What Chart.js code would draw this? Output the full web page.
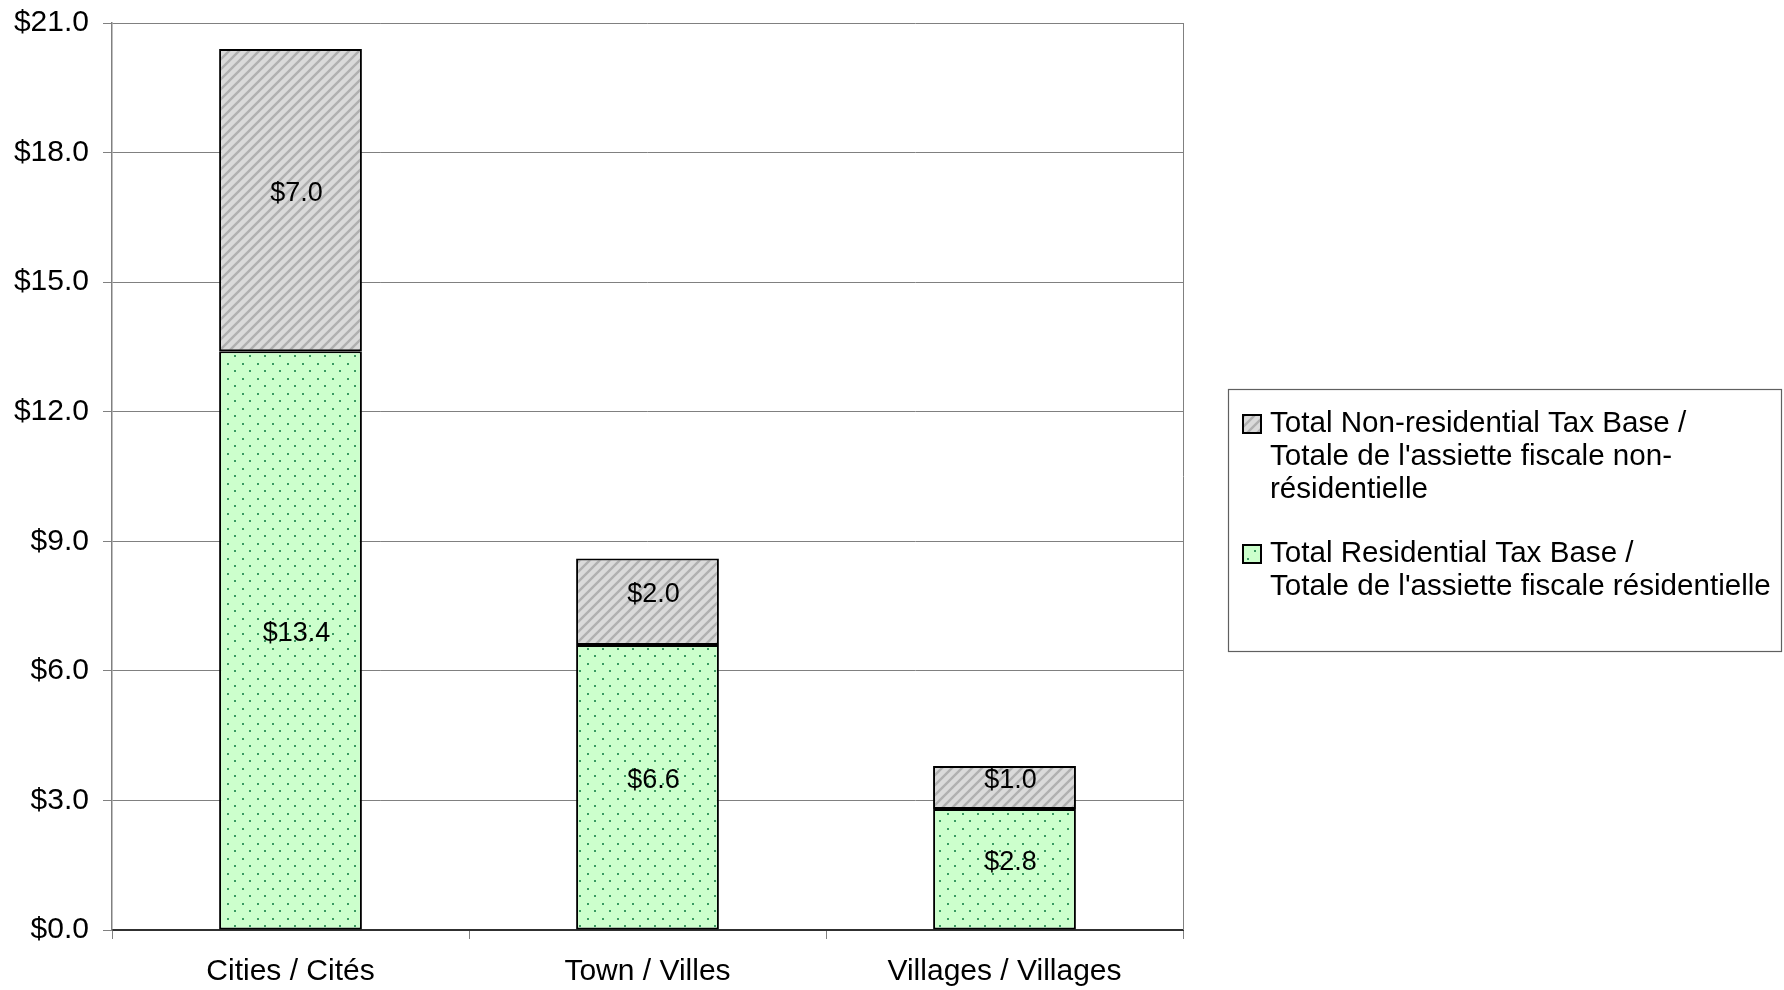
<!DOCTYPE html>
<html>
<head>
<meta charset="utf-8">
<script src="https://cdn.jsdelivr.net/npm/chart.js@4/dist/chart.umd.min.js"></script>
<style>
  html, body { margin: 0; padding: 0; background: #fff; }
  #wrap { width: 1784px; height: 990px; }
</style>
</head>
<body>
<div id="wrap"><canvas id="taxChart" width="1784" height="990"></canvas></div>
<script>
// Datos (miles de millones)
const categories = ['Cities / Cités', 'Town / Villes', 'Villages / Villages'];
const residential = [13.4, 6.6, 2.8];
const nonResidential = [7.0, 2.0, 1.0];
const yTicks = [0, 3, 6, 9, 12, 15, 18, 21];
const legendNonRes = ['Total Non-residential Tax Base /', 'Totale de l\'assiette fiscale non-', 'résidentielle'];
const legendRes = ['Total Residential Tax Base /', 'Totale de l\'assiette fiscale résidentielle'];

const FONT = 'Liberation Sans, Arial, sans-serif';

// motivos de relleno
function stripePattern() {
  const c = document.createElement('canvas');
  c.width = 10; c.height = 10;
  const g = c.getContext('2d');
  g.fillStyle = '#dadada';
  g.fillRect(0, 0, 10, 10);
  g.strokeStyle = '#b0b0b0';
  g.lineWidth = 2.4;
  g.beginPath();
  g.moveTo(-2, 12); g.lineTo(12, -2);
  g.moveTo(-7, 7); g.lineTo(7, -7);
  g.moveTo(3, 17); g.lineTo(17, 3);
  g.stroke();
  return g.createPattern(c, 'repeat');
}
function dotPattern() {
  const c = document.createElement('canvas');
  c.width = 15; c.height = 15;
  const g = c.getContext('2d');
  g.fillStyle = '#ccffcc';
  g.fillRect(0, 0, 15, 15);
  g.fillStyle = '#3a9a62';
  g.fillRect(2, 3, 2, 2);
  g.fillRect(9, 10, 2, 2);
  return g.createPattern(c, 'repeat');
}
const greyFill = stripePattern();
const greenFill = dotPattern();

const data = {
  labels: categories,
  datasets: [{
    label: legendRes.join(' '),
    data: residential,
    backgroundColor: greenFill,
    borderColor: '#000',
    borderWidth: 2,
    borderSkipped: false,
    barPercentage: 0.4,
    categoryPercentage: 1
  }, {
    label: legendNonRes.join(' '),
    data: nonResidential,
    backgroundColor: greyFill,
    borderColor: '#000',
    borderWidth: 2,
    borderSkipped: false,
    barPercentage: 0.4,
    categoryPercentage: 1
  }]
};

// etiquetas de valor al centro de cada segmento
const valueLabels = {
  id: 'valueLabels',
  afterDatasetsDraw(chart) {
    const ctx = chart.ctx;
    ctx.save();
    ctx.font = '27px ' + FONT;
    ctx.fillStyle = '#000';
    ctx.textAlign = 'center';
    ctx.textBaseline = 'middle';
    chart.data.datasets.forEach((ds, i) => {
      chart.getDatasetMeta(i).data.forEach((bar, j) => {
        const p = bar.getProps(['x', 'y', 'base'], true);
        ctx.fillText('$' + ds.data[j].toFixed(1), p.x + 6, (p.y + p.base) / 2 - 7);
      });
    });
    ctx.restore();
  }
};

// borde derecho del area de trazado
const plotFrame = {
  id: 'plotFrame',
  beforeDatasetsDraw(chart) {
    const a = chart.chartArea, ctx = chart.ctx;
    ctx.save();
    ctx.strokeStyle = '#808080';
    ctx.lineWidth = 1;
    ctx.beginPath();
    ctx.moveTo(Math.round(a.right) + 0.5, a.top);
    ctx.lineTo(Math.round(a.right) + 0.5, a.bottom);
    ctx.stroke();
    ctx.restore();
  }
};

// leyenda en caja, con lineas partidas
const boxLegend = {
  id: 'boxLegend',
  afterDraw(chart) {
    const ctx = chart.ctx;
    const bx = 1228, by = 389, bw = 553, bh = 262;
    ctx.save();
    ctx.fillStyle = '#fff';
    ctx.fillRect(bx, by, bw, bh);
    ctx.strokeStyle = '#606060';
    ctx.lineWidth = 1.2;
    ctx.strokeRect(bx + 0.5, by + 0.5, bw, bh);
    const items = [
      { lines: legendNonRes, fill: greyFill, y: 424 },
      { lines: legendRes, fill: greenFill, y: 554 }
    ];
    ctx.font = '29.6px ' + FONT;
    ctx.textBaseline = 'middle';
    ctx.textAlign = 'left';
    items.forEach(it => {
      ctx.fillStyle = it.fill;
      ctx.fillRect(1243, it.y - 9, 18, 18);
      ctx.strokeStyle = '#000';
      ctx.lineWidth = 2;
      ctx.strokeRect(1243, it.y - 9, 18, 18);
      ctx.fillStyle = '#000';
      it.lines.forEach((t, k) => ctx.fillText(t, 1270, it.y + k * 33));
    });
    ctx.restore();
  }
};

const config = {
  type: 'bar',
  data: data,
  options: {
    responsive: false,
    devicePixelRatio: 1,
    animation: false,
    layout: { padding: { top: 23, right: 601, left: 0, bottom: 0 } },
    scales: {
      x: {
        stacked: true,
        grid: {
          display: true,
          drawOnChartArea: false,
          drawTicks: true,
          tickLength: 9,
          color: '#808080',
          offset: true
        },
        border: { display: true, color: '#303030', width: 2 },
        ticks: {
          color: '#000',
          font: { family: FONT, size: 30 },
          padding: 15,
          maxRotation: 0
        },
        afterFit(scale) { scale.height = 60; }
      },
      y: {
        stacked: true,
        min: 0,
        max: 21,
        afterBuildTicks(scale) { scale.ticks = yTicks.map(v => ({ value: v })); },
        grid: {
          color: '#808080',
          lineWidth: 1,
          tickLength: 9,
          tickColor: '#808080'
        },
        border: { display: true, color: '#808080', width: 1.5 },
        ticks: {
          color: '#000',
          font: { family: FONT, size: 30 },
          padding: 14,
          callback: v => '$' + Number(v).toFixed(1)
        },
        afterFit(scale) {
          scale.width = 112;
          scale.paddingTop = 0;
          scale.paddingBottom = 0;
        }
      }
    },
    plugins: {
      legend: { display: false },
      tooltip: { enabled: false }
    }
  },
  plugins: [plotFrame, valueLabels, boxLegend]
};

let taxChart = new Chart(document.getElementById('taxChart'), config);
</script>
</body>
</html>
